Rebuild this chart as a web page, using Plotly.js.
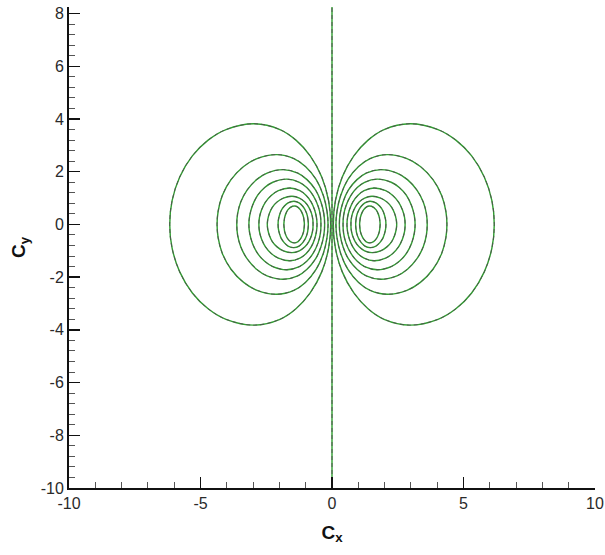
<!DOCTYPE html>
<html>
<head>
<meta charset="utf-8">
<script src="https://cdn.plot.ly/plotly-3.0.1.min.js"></script>
<style>
  html, body { margin: 0; padding: 0; background: #fff; }
  #chart { width: 605px; height: 555px; }
</style>
</head>
<body>
<div id="chart"></div>
<script>
// Upper half of each closed streamline in the right-hand cell (Cx > 0),
// listed from the inner crossing of Cy = 0 over the top to the outer crossing.
const loop1X = [0.05, 0.13, 0.39, 0.83, 1.37, 1.98, 2.95, 4.03, 4.71, 5.31, 5.79, 6.08, 6.17];
const loop1Y = [0.00, 0.90, 1.80, 2.60, 3.20, 3.60, 3.82, 3.60, 3.20, 2.60, 1.80, 0.90, 0.00];
const loop2X = [0.15, 0.19, 0.33, 0.60, 1.01, 1.45, 2.10, 2.85, 3.36, 3.84, 4.17, 4.33, 4.37];
const loop2Y = [0.00, 0.50, 1.10, 1.70, 2.20, 2.50, 2.65, 2.50, 2.20, 1.70, 1.10, 0.50, 0.00];
const loop3X = [0.28, 0.31, 0.42, 0.62, 0.95, 1.30, 1.85, 2.47, 2.87, 3.23, 3.47, 3.59, 3.62];
const loop3Y = [0.00, 0.40, 0.85, 1.30, 1.70, 1.95, 2.08, 1.95, 1.70, 1.30, 0.85, 0.40, 0.00];
const loop4X = [0.42, 0.44, 0.53, 0.72, 0.96, 1.24, 1.72, 2.25, 2.56, 2.83, 3.03, 3.13, 3.16];
const loop4Y = [0.00, 0.33, 0.70, 1.10, 1.40, 1.60, 1.72, 1.60, 1.40, 1.10, 0.70, 0.33, 0.00];
const loop5X = [0.57, 0.59, 0.66, 0.79, 0.98, 1.22, 1.60, 2.04, 2.31, 2.53, 2.68, 2.76, 2.78];
const loop5Y = [0.00, 0.26, 0.55, 0.85, 1.10, 1.28, 1.38, 1.28, 1.10, 0.85, 0.55, 0.26, 0.00];
const loop6X = [0.72, 0.73, 0.78, 0.88, 1.03, 1.24, 1.52, 1.85, 2.09, 2.27, 2.38, 2.44, 2.46];
const loop6Y = [0.00, 0.20, 0.42, 0.65, 0.85, 1.00, 1.07, 1.00, 0.85, 0.65, 0.42, 0.20, 0.00];
const loop7X = [0.90, 0.91, 0.94, 1.01, 1.12, 1.25, 1.45, 1.67, 1.81, 1.93, 2.00, 2.04, 2.05];
const loop7Y = [0.00, 0.16, 0.34, 0.53, 0.70, 0.82, 0.88, 0.82, 0.70, 0.53, 0.34, 0.16, 0.00];
const loop8X = [1.05, 1.06, 1.08, 1.13, 1.20, 1.29, 1.43, 1.58, 1.68, 1.75, 1.80, 1.82, 1.83];
const loop8Y = [0.00, 0.13, 0.27, 0.42, 0.55, 0.65, 0.70, 0.65, 0.55, 0.42, 0.27, 0.13, 0.00];

// Dividing streamline along Cx = 0
const axisLineX = [0, 0];
const axisLineY = [-10, 8.25];

// Axis tick positions and labels (plain hyphen minus)
const xTickVals = [-10, -5, 0, 5, 10];
const xTickText = ['-10', '-5', '0', '5', '10'];
const yTickVals = [-10, -8, -6, -4, -2, 0, 2, 4, 6, 8];
const yTickText = ['-10', '-8', '-6', '-4', '-2', '0', '2', '4', '6', '8'];

const loopsX = [loop1X, loop2X, loop3X, loop4X, loop5X, loop6X, loop7X, loop8X];
const loopsY = [loop1Y, loop2Y, loop3Y, loop4Y, loop5Y, loop6Y, loop7Y, loop8Y];

// Close each loop through its mirror in Cy, then repeat it in the left cell (mirror in Cx).
const px = [], py = [];
function pushLoop(xs, ys, sx) {
  for (let i = 0; i < xs.length; i++) { px.push(sx * xs[i]); py.push(ys[i]); }
  for (let i = xs.length - 2; i >= 0; i--) { px.push(sx * xs[i]); py.push(-ys[i]); }
  px.push(null); py.push(null);
}
loopsX.forEach((xs, k) => { pushLoop(xs, loopsY[k], 1); pushLoop(xs, loopsY[k], -1); });
px.push(axisLineX[0], axisLineX[1]); py.push(axisLineY[0], axisLineY[1]);

// Solid green solution with the dashed dark solution drawn over it
const traces = [
  { x: px, y: py, type: 'scatter', mode: 'lines', connectgaps: false,
    line: { color: '#2f9e2f', width: 1.4, shape: 'spline', smoothing: 1 },
    hoverinfo: 'skip', showlegend: false },
  { x: px, y: py, type: 'scatter', mode: 'lines', connectgaps: false,
    line: { color: '#505050', width: 0.9, dash: '4px,3px', shape: 'spline', smoothing: 1 },
    hoverinfo: 'skip', showlegend: false }
];

const tickFont = { family: 'Liberation Sans, Arial, sans-serif', size: 16, color: '#2a2a2a' };
const titleFont = { family: 'Liberation Sans, Arial, sans-serif', size: 19, color: '#111' };

const layout = {
  width: 605, height: 555,
  margin: { l: 69, r: 10, t: 7, b: 67 },
  paper_bgcolor: '#fff', plot_bgcolor: '#fff',
  showlegend: false,
  xaxis: {
    range: [-10, 10], tickmode: 'array', tickvals: xTickVals, ticktext: xTickText,
    ticks: 'inside', ticklen: 11, tickwidth: 1.5, tickcolor: '#111',
    showline: true, linewidth: 2, linecolor: '#111', mirror: false,
    showgrid: false, zeroline: false, tickfont: tickFont,
    minor: { tickmode: 'linear', tick0: -10, dtick: 1, ticks: 'inside', ticklen: 6,
             tickwidth: 1, tickcolor: '#555', showgrid: false },
    title: { text: '<b>C<sub>x</sub></b>', font: titleFont, standoff: 14 }
  },
  yaxis: {
    range: [-10, 8.25], tickmode: 'array', tickvals: yTickVals, ticktext: yTickText,
    ticks: 'inside', ticklen: 11, tickwidth: 1.5, tickcolor: '#111',
    showline: true, linewidth: 2, linecolor: '#111', mirror: false,
    showgrid: false, zeroline: false, tickfont: tickFont,
    minor: { tickmode: 'linear', tick0: -10, dtick: 0.4, ticks: 'inside', ticklen: 6,
             tickwidth: 1, tickcolor: '#555', showgrid: false },
    title: { text: '<b>C<sub>y</sub></b>', font: titleFont, standoff: 10 }
  }
};

Plotly.newPlot('chart', traces, layout, { staticPlot: true, displayModeBar: false });
</script>
</body>
</html>
